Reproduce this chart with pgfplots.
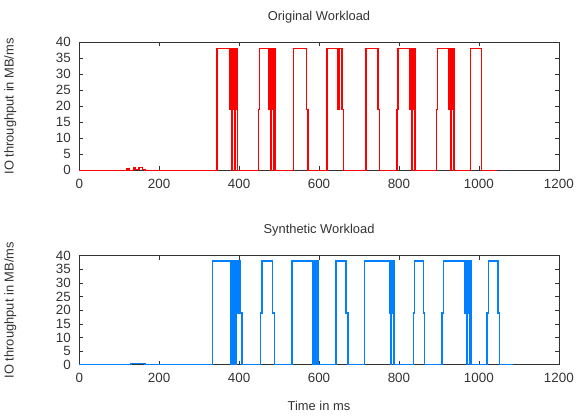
\documentclass[border=0pt]{standalone}
\usepackage{pgfplots}
\pgfplotsset{compat=1.18}
\usepackage{fontspec}
\setmainfont{Liberation Sans}
\definecolor{txt}{gray}{0.2}
\definecolor{myblue}{RGB}{0,128,255}
\begin{document}
\fontsize{13}{15}\selectfont
\begin{tikzpicture}
\path (0pt,0pt) rectangle (578pt,422pt);
\pgfplotsset{
  myax/.style={
    scale only axis, width=483.5pt, anchor=south west,
    xmin=0, xmax=1200, ymin=0, ymax=40,
    xtick={0,200,...,1200}, ytick={0,5,...,40},
    tick align=inside, major tick length=4pt,
    /pgf/number format/1000 sep={},
    /pgf/number format/assume math mode=true,
    tick label style={font=\fontsize{13.5}{15}\selectfont, text=txt},
    xticklabel style={yshift=-4pt},
    yticklabel style={xshift=-4pt},
    label style={font=\fontsize{13}{15}\selectfont, text=txt},
    title style={font=\fontsize{13}{15}\selectfont, text=txt, at={(0.5,1)}, anchor=base, yshift=16.5pt},
    axis line style={black!80, line width=0.6pt},
    tick style={black!80, line width=0.6pt},
    ylabel={IO throughput in MB/ms},
    ylabel style={at={(axis description cs:-0.1437,0.5)}, anchor=center},
    clip=true,
  }
}
\begin{axis}[myax, at={(77.5pt,250.3pt)}, height=129pt, title={Original Workload}]
\addplot[red, line width=1.5pt, line join=miter] coordinates {
(0,0)(120,0)(120,0.5)(124,0.5)(124,0)(136,0)(136,0.8)(140,0.8)(140,0.3)(150,0.3)(150,0.8)(158,0.8)(158,0.3)(164,0.3)(164,0)
(345,0)(345,38)(377,38)(377,19)(379,19)(379,38)(381,38)(381,0)(383,0)(383,38)(385,38)(385,19)(387,19)(387,38)(389,38)(389,0)(391,0)(391,38)(393,38)(393,19)(394,19)(394,38)(396,38)(396,0)
(448,0)(448,19)(451,19)(451,38)(474,38)(474,19)(476,19)(476,38)(478,38)(478,0)(480,0)(480,38)(482,38)(482,19)(484,19)(484,38)(486,38)(486,0)(488,0)(488,38)(490,38)(490,0)
(536,0)(536,38)(569,38)(569,19)(573,19)(573,0)
(620,0)(620,38)(648,38)(648,19)(650,19)(650,38)(658,38)(658,19)(661,19)(661,0)
(717,0)(717,38)(747,38)(747,19)(751,19)(751,0)
(795,0)(795,19)(798,19)(798,38)(826,38)(826,19)(828,19)(828,38)(831,38)(831,0)(833,0)(833,38)(836,38)(836,19)(838,19)(838,38)(840,38)(840,0)
(894,0)(894,19)(897,19)(897,38)(925,38)(925,19)(927,19)(927,38)(929,38)(929,0)(931,0)(931,38)(933,38)(933,19)(935,19)(935,38)(937,38)(937,0)(938,0)(938,38)(939,38)(939,0)
(979,0)(979,38)(1007,38)(1007,0)(1045,0)
};
\end{axis}
\begin{axis}[myax, at={(77.5pt,54.3pt)}, height=110pt, title={Synthetic Workload},
  xlabel={Time in ms}, xlabel style={at={(axis description cs:0.5,0)}, anchor=center, yshift=-42pt}]
\addplot[myblue, line width=1.5pt, line join=miter] coordinates {
(0,0)(130,0)(130,0.5)(165,0.5)(165,0)
(333,0)(333,38)(380,38)(380,0)(383,0)(383,38)(386,38)(386,0)(389,0)(389,38)(392,38)(392,0)(394,0)(394,38)(396,38)(396,19)(398,19)(398,38)(400,38)(400,19)(402,19)(402,38)(404,38)(404,19)(407,19)(407,0)
(453,0)(453,19)(457,19)(457,38)(484,38)(484,19)(488,19)(488,0)
(532,0)(532,38)(585,38)(585,0)(588,0)(588,38)(591,38)(591,0)(594,0)(594,38)(597,38)(597,0)
(642,0)(642,38)(668,38)(668,19)(672,19)(672,0)
(714,0)(714,38)(776,38)(776,19)(778,19)(778,38)(780,38)(780,0)(782,0)(782,38)(784,38)(784,19)(786,19)(786,38)(788,38)(788,0)(790,0)
(836,0)(836,19)(839,19)(839,38)(861,38)(861,19)(864,19)(864,0)
(908,0)(908,19)(911,19)(911,38)(965,38)(965,19)(967,19)(967,38)(969,38)(969,0)(971,0)(971,38)(973,38)(973,19)(975,19)(975,38)(977,38)(977,0)(979,0)(979,38)(981,38)(981,0)(982,0)
(1020,0)(1020,19)(1024,19)(1024,38)(1048,38)(1048,19)(1051,19)(1051,0)(1085,0)
};
\end{axis}
\end{tikzpicture}
\end{document}
